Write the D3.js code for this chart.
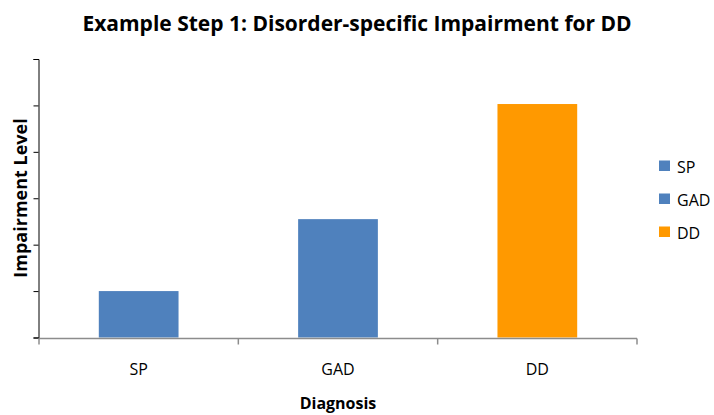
<!DOCTYPE html>
<html>
<head>
<meta charset="utf-8">
<script src="https://cdn.jsdelivr.net/npm/d3@7"></script>
<style>
  body { margin: 0; background: #fff; }
  text { font-family: "Open Sans", "Noto Sans", sans-serif; fill: #000; }
</style>
</head>
<body>
<div id="chart"></div>
<script>
// Data
const categories = ['SP', 'GAD', 'DD'];
const values = [1, 2.55, 5.03];
const barColors = ['#4f81bd', '#4f81bd', '#ff9900'];
const yTicks = [0, 1, 2, 3, 4, 5, 6];

const width = 714;
const height = 415;
const margin = {top: 59, right: 77, bottom: 77, left: 39};

const svg = d3.select('#chart')
  .append('svg')
    .attr('width', width)
    .attr('height', height);

const x = d3.scaleBand()
  .domain(categories)
  .range([margin.left, width - margin.right])
  .paddingInner(0.6)
  .paddingOuter(0.3);

const y = d3.scaleLinear()
  .domain([0, 6])
  .range([height - margin.bottom - 0.5, margin.top]);

// Bars
svg.append('g')
  .selectAll('rect')
  .data(values)
  .join('rect')
    .attr('x', (d, i) => x(categories[i]))
    .attr('y', d => y(d))
    .attr('width', x.bandwidth())
    .attr('height', d => y(0) - y(d))
    .attr('fill', (d, i) => barColors[i]);

// Y axis
const yAxis = svg.append('g')
  .attr('transform', `translate(${margin.left - 0.5},0)`)
  .call(d3.axisLeft(y).tickValues(yTicks).tickSize(5).tickFormat(''));
yAxis.selectAll('path, line').attr('stroke', '#000');

// X axis (grey line, ticks between categories)
const xAxisG = svg.append('g')
  .attr('transform', `translate(0,${y(0) + 1})`);
xAxisG.append('line')
  .attr('x1', margin.left).attr('x2', width - margin.right)
  .attr('stroke', '#8c8c8c').attr('stroke-width', 1.5);
const edges = d3.range(categories.length + 1)
  .map(i => margin.left + i * (width - margin.right - margin.left) / categories.length);
xAxisG.selectAll('.xtick')
  .data(edges)
  .join('line')
    .attr('class', 'xtick')
    .attr('x1', d => d).attr('x2', d => d)
    .attr('y1', 0).attr('y2', 6)
    .attr('stroke', '#8c8c8c').attr('stroke-width', 1.5);
xAxisG.selectAll('.xlab')
  .data(categories)
  .join('text')
    .attr('class', 'xlab')
    .attr('x', d => x(d) + x.bandwidth() / 2)
    .attr('y', 36)
    .attr('text-anchor', 'middle')
    .style('font-size', '16px')
    .text(d => d);

// Title
svg.append('text')
  .attr('x', 357)
  .attr('y', 31)
  .attr('text-anchor', 'middle')
  .style('font-size', '21px')
  .style('font-weight', 700)
  .text('Example Step 1: Disorder-specific Impairment for DD');

// Axis titles
svg.append('text')
  .attr('x', 338)
  .attr('y', 409)
  .attr('text-anchor', 'middle')
  .style('font-size', '16px')
  .style('font-weight', 700)
  .text('Diagnosis');

svg.append('text')
  .attr('transform', 'translate(27,198) rotate(-90)')
  .attr('text-anchor', 'middle')
  .style('font-size', '18px')
  .style('font-weight', 700)
  .text('Impairment Level');

// Legend
const legend = svg.append('g')
  .selectAll('g')
  .data(categories)
  .join('g')
    .attr('transform', (d, i) => `translate(659,${160.5 + i * 33})`);
legend.append('rect')
  .attr('width', 11).attr('height', 10.5)
  .attr('fill', (d, i) => barColors[i]);
legend.append('text')
  .attr('x', 18)
  .attr('y', 12)
  .style('font-size', '16px')
  .text(d => d);
</script>
</body>
</html>
